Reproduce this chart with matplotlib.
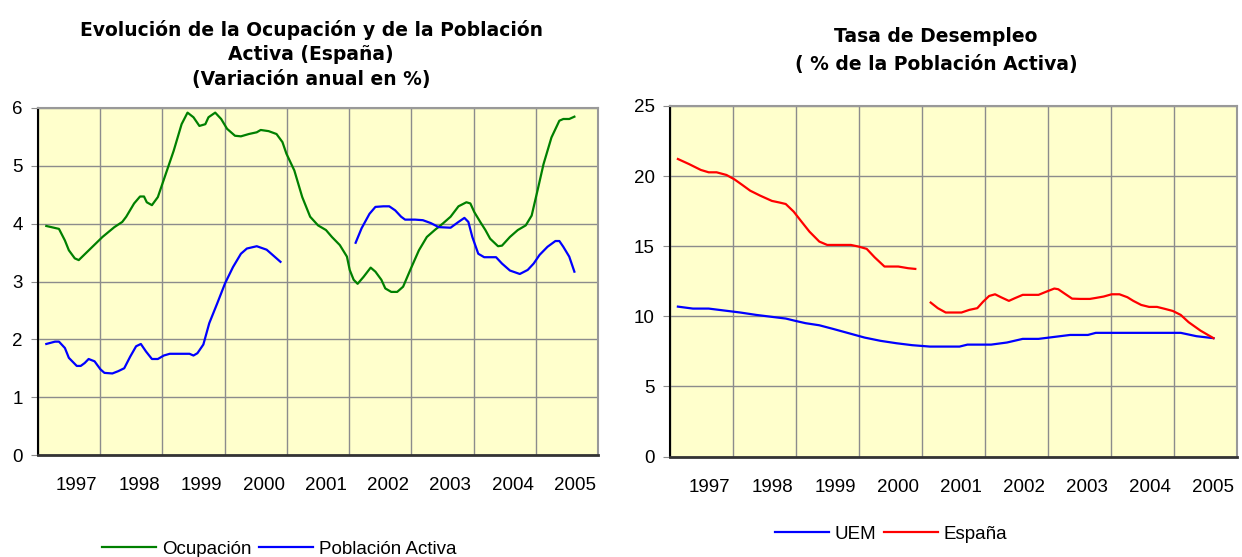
import matplotlib
matplotlib.use("Agg")
import matplotlib.pyplot as plt
import numpy as np

plt.rcParams['font.family'] = ['Liberation Sans', 'DejaVu Sans']

years = [1997, 1998, 1999, 2000, 2001, 2002, 2003, 2004, 2005]
year_labels = [str(y) for y in years]

# Left chart (x in zoom pixels -> converted to fractional year)
ocup_px = [118, 150, 165, 175, 190, 200, 230, 260, 290, 310, 320, 340, 355, 365, 372, 385, 400, 420,
           440, 460, 475, 490, 505, 520, 528, 545, 560, 575, 595, 610, 630, 650, 660, 680, 700, 715,
           725, 745, 765, 785, 805, 825, 840, 860, 878, 885, 895, 905, 920, 938, 950, 965, 975, 990,
           1005, 1020, 1040, 1060, 1080, 1100, 1120, 1140, 1160, 1180, 1190, 1200, 1215, 1228, 1240,
           1260, 1270, 1290, 1310, 1330, 1345, 1360, 1375, 1395, 1415, 1425, 1440, 1453]
ocupacion = [3.96, 3.91, 3.71, 3.54, 3.40, 3.37, 3.57, 3.77, 3.94, 4.03, 4.12, 4.35, 4.47, 4.47, 4.37,
             4.32, 4.46, 4.86, 5.26, 5.72, 5.92, 5.84, 5.69, 5.72, 5.84, 5.92, 5.81, 5.64, 5.52, 5.51,
             5.55, 5.58, 5.62, 5.60, 5.55, 5.41, 5.21, 4.92, 4.46, 4.12, 3.97, 3.89, 3.77, 3.63, 3.43,
             3.20, 3.03, 2.96, 3.08, 3.24, 3.17, 3.03, 2.88, 2.82, 2.82, 2.91, 3.23, 3.54, 3.77, 3.89,
             4.00, 4.12, 4.30, 4.37, 4.35, 4.20, 4.03, 3.89, 3.74, 3.61, 3.62, 3.77, 3.89, 3.97, 4.14,
             4.58, 5.03, 5.49, 5.78, 5.81, 5.81, 5.85]

pact1_px = [118, 140, 150, 165, 175, 195, 205, 215, 225, 240, 255, 265, 285, 300, 315, 330, 345, 357,
            370, 385, 400, 415, 430, 460, 480, 490, 500, 515, 530, 550, 570, 590, 610, 625, 650, 675,
            690, 710]
pact1 = [1.92, 1.96, 1.96, 1.85, 1.68, 1.54, 1.54, 1.59, 1.66, 1.62, 1.48, 1.42, 1.41, 1.45, 1.50, 1.70,
         1.88, 1.92, 1.79, 1.66, 1.66, 1.72, 1.75, 1.75, 1.75, 1.72, 1.76, 1.91, 2.28, 2.62, 2.97, 3.25,
         3.48, 3.57, 3.61, 3.55, 3.46, 3.34]
pact2_px = [900, 915, 935, 950, 970, 985, 1000, 1015, 1025, 1050, 1070, 1090, 1110, 1140, 1160, 1175,
            1185, 1195, 1210, 1225, 1255, 1270, 1290, 1315, 1335, 1350, 1365, 1385, 1405, 1415, 1425,
            1440, 1453]
pact2 = [3.67, 3.92, 4.17, 4.29, 4.30, 4.30, 4.23, 4.12, 4.07, 4.07, 4.06, 4.01, 3.94, 3.93, 4.03, 4.10,
         4.03, 3.77, 3.48, 3.42, 3.42, 3.31, 3.19, 3.13, 3.20, 3.31, 3.46, 3.60, 3.70, 3.70, 3.60, 3.43,
         3.17]

# Right chart
esp1_px = [147, 175, 205, 225, 245, 270, 290, 310, 330, 355, 385, 405, 420, 440, 460, 480, 505, 525,
           545, 585, 605, 625, 645, 670, 680, 705, 730, 748]
espana1 = [21.22, 20.86, 20.44, 20.27, 20.27, 20.08, 19.77, 19.37, 18.96, 18.61, 18.23, 18.11, 18.01,
           17.47, 16.75, 16.04, 15.33, 15.09, 15.09, 15.09, 14.97, 14.81, 14.21, 13.55, 13.55, 13.55,
           13.43, 13.38]
esp2_px = [787, 805, 825, 845, 865, 885, 905, 920, 935, 950, 965, 985, 1000, 1020, 1040, 1060, 1080,
           1100, 1110, 1125, 1145, 1165, 1190, 1205, 1225, 1245, 1265, 1285, 1300, 1320, 1340, 1360,
           1380, 1400, 1420, 1440, 1470, 1503]
espana2 = [10.98, 10.58, 10.27, 10.27, 10.27, 10.46, 10.58, 11.05, 11.45, 11.57, 11.36, 11.10, 11.29,
           11.53, 11.53, 11.53, 11.76, 11.98, 11.93, 11.64, 11.26, 11.24, 11.24, 11.31, 11.41, 11.57,
           11.57, 11.36, 11.10, 10.81, 10.67, 10.67, 10.53, 10.38, 10.10, 9.58, 8.98, 8.44]
uem_px = [147, 185, 225, 265, 305, 345, 385, 420, 445, 470, 505, 540, 580, 620, 660, 700, 740, 785, 820,
          860, 880, 900, 940, 980, 1020, 1060, 1100, 1140, 1185, 1205, 1250, 1300, 1350, 1420, 1460, 1503]
uem = [10.69, 10.55, 10.55, 10.41, 10.27, 10.10, 9.96, 9.84, 9.67, 9.51, 9.36, 9.10, 8.79, 8.48, 8.25,
       8.08, 7.94, 7.84, 7.84, 7.84, 7.98, 7.98, 7.98, 8.13, 8.39, 8.39, 8.53, 8.67, 8.67, 8.82, 8.82,
       8.82, 8.82, 8.82, 8.58, 8.44]


def to_year_left(px):
    return 1997 + (np.array(px) - 97) / 157.3


def to_year_right(px):
    return 1997 + (np.array(px) - 127) / 159.5


BG = '#FFFFCC'
GRID = '#8C8C8C'
TICK_FS = 13.5
LEG_FS = 13.5
TITLE_KW = dict(ha='center', va='baseline', fontsize=13.5, fontweight='bold', family='DejaVu Sans')

fig = plt.figure(figsize=(12.42, 5.57), dpi=100)
W, H = 1242, 557
axL = fig.add_axes([38 / W, 1 - 455 / H, 560 / W, 347 / H])
axR = fig.add_axes([670 / W, 1 - 456.5 / H, 567 / W, 350.5 / H])


def style(ax, ymax, ystep):
    ax.set_facecolor(BG)
    ax.set_xlim(1997, 2006)
    ax.set_ylim(0, ymax)
    ax.set_yticks(np.arange(0, ymax + 0.1, ystep))
    ax.set_xticks(np.arange(1997, 2006))
    ax.set_xticklabels([])
    ax.set_xticks(np.array(years) + 0.625, minor=True)
    ax.set_xticklabels(year_labels, minor=True)
    ax.tick_params(axis='x', which='both', length=0, labelsize=TICK_FS, pad=16)
    ax.tick_params(axis='y', length=5, color=GRID, labelsize=TICK_FS, pad=6)
    ax.grid(True, which='major', color=GRID, linewidth=1)
    ax.set_axisbelow(True)
    for s in ['top', 'right']:
        ax.spines[s].set_color('#999999')
        ax.spines[s].set_linewidth(1.5)
    ax.spines['left'].set_color('black')
    ax.spines['left'].set_linewidth(1.5)
    ax.spines['bottom'].set_color('#333333')
    ax.spines['bottom'].set_linewidth(2)


style(axL, 6, 1)
style(axR, 25, 5)

lo, = axL.plot(to_year_left(ocup_px), ocupacion, color='#008000', lw=1.6, label='Ocupación')
lp, = axL.plot(to_year_left(pact1_px), pact1, color='#0000FF', lw=1.6, label='Población Activa')
axL.plot(to_year_left(pact2_px), pact2, color='#0000FF', lw=1.6)

lu, = axR.plot(to_year_right(uem_px), uem, color='#0000FF', lw=1.6, label='UEM')
le, = axR.plot(to_year_right(esp1_px), espana1, color='#FF0000', lw=1.6, label='España')
axR.plot(to_year_right(esp2_px), espana2, color='#FF0000', lw=1.6)

fig.text(311 / W, 1 - 36 / H, 'Evolución de la Ocupación y de la Población', **TITLE_KW)
fig.text(311 / W, 1 - 60 / H, 'Activa (España)', **TITLE_KW)
fig.text(311 / W, 1 - 85 / H, '(Variación anual en %)', **TITLE_KW)
fig.text(936 / W, 1 - 42 / H, 'Tasa de Desempleo', **TITLE_KW)
fig.text(936 / W, 1 - 70 / H, '( % de la Población Activa)', **TITLE_KW)

fig.legend(handles=[lo, lp], loc='center', bbox_to_anchor=(279 / W, 1 - 549 / H), ncol=2, frameon=False,
           fontsize=LEG_FS, handlelength=2.9, handletextpad=0.3, columnspacing=0.4, borderpad=0)
fig.legend(handles=[lu, le], loc='center', bbox_to_anchor=(891 / W, 1 - 534 / H), ncol=2, frameon=False,
           fontsize=LEG_FS, handlelength=2.9, handletextpad=0.3, columnspacing=0.4, borderpad=0)

fig.savefig('out.png', dpi=100)
